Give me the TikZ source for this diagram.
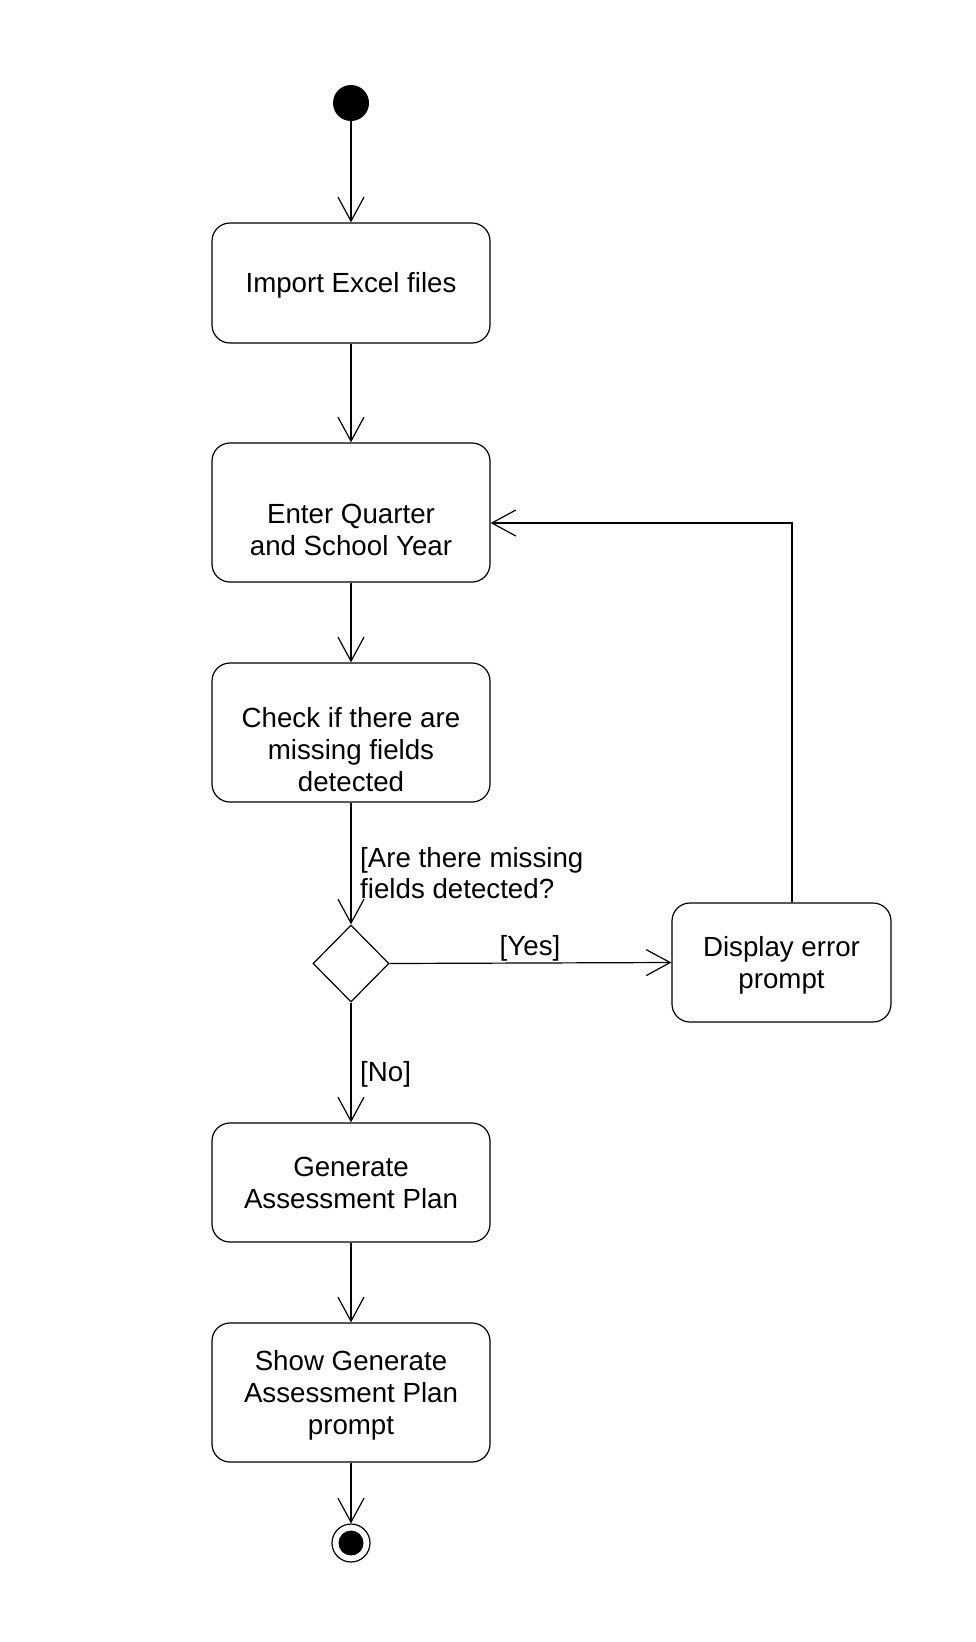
\documentclass[tikz,border=0pt]{standalone}
\usepackage{fontspec}
\setmainfont{Liberation Sans}
\usetikzlibrary{arrows.meta,shapes.geometric,calc}
\begin{document}
\begin{tikzpicture}[x=1pt,y=-1pt,
  every node/.style={font=\fontsize{27.7}{31.7}\selectfont},
  line/.style={line width=1.2pt},
  arr/.style={line, -{Straight Barb[length=24pt,width=26pt,line width=1.2pt]}},
  act/.style={draw, line width=1.2pt, rounded corners=18pt, minimum width=278pt,
    inner sep=0pt, align=center, text height=19.8pt, text depth=0pt},
  txt/.style={inner sep=0pt, text height=19.8pt, text depth=0pt, align=left},
  decision/.style={draw, line width=1.2pt, diamond, inner sep=0pt, minimum width=76pt, minimum height=77pt}
]
\useasboundingbox (0,0) rectangle (976,1642);
\fill[white] (0,0) rectangle (976,1642);

\node[circle, fill=black, inner sep=0pt, minimum size=36pt] (init) at (351,103) {};
\node[act, minimum height=120pt] (b1) at (351,283) {Import Excel files};
\node[act, minimum height=139pt, text height=85.5pt] (b2) at (351,512.5) {Enter Quarter\\and School Year};
\node[act, minimum height=139pt, text height=117.2pt] (b3) at (351,732.5) {Check if there are\\missing fields\\detected};
\node[decision] (dec) at (351,963.5) {};
\node[act, minimum width=219pt, minimum height=119pt, text height=51.5pt] (err) at (781.5,962.5) {Display error\\prompt};
\node[act, minimum height=119pt, text height=51.5pt] (b4) at (351,1182.5) {Generate\\Assessment Plan};
\node[act, minimum height=139pt, text height=83.2pt] (b5) at (351,1392.5) {Show Generate\\Assessment Plan\\prompt};
\node[circle, draw, line width=1.2pt, inner sep=0pt, minimum size=38pt] (fin) at (351,1543) {};
\node[circle, fill=black, inner sep=0pt, minimum size=25pt] (finc) at (fin.center) {};

\node[txt, anchor=north west, text height=51.5pt] (g1) at (360,847) {[Are there missing\\fields detected?};
\node[txt] (gy) at (530,946) {[Yes]};
\node[txt, anchor=west] (gn) at (360,1072) {[No]};

\coordinate (lp) at (792,523);

\draw[arr] (init) -- (b1.north);
\draw[arr] (b1) -- (b2.north);
\draw[arr] (b2) -- (b3.north);
\draw[arr] (b3) -- (dec.north);
\draw[arr] (dec.east) -- (err.west);
\draw[arr] (err.north -| lp) -- (lp) -- (lp -| b2.east);
\draw[arr] (dec.south) -- (b4.north);
\draw[arr] (b4) -- (b5.north);
\draw[arr] (b5) -- (fin.north);
\end{tikzpicture}
\end{document}
